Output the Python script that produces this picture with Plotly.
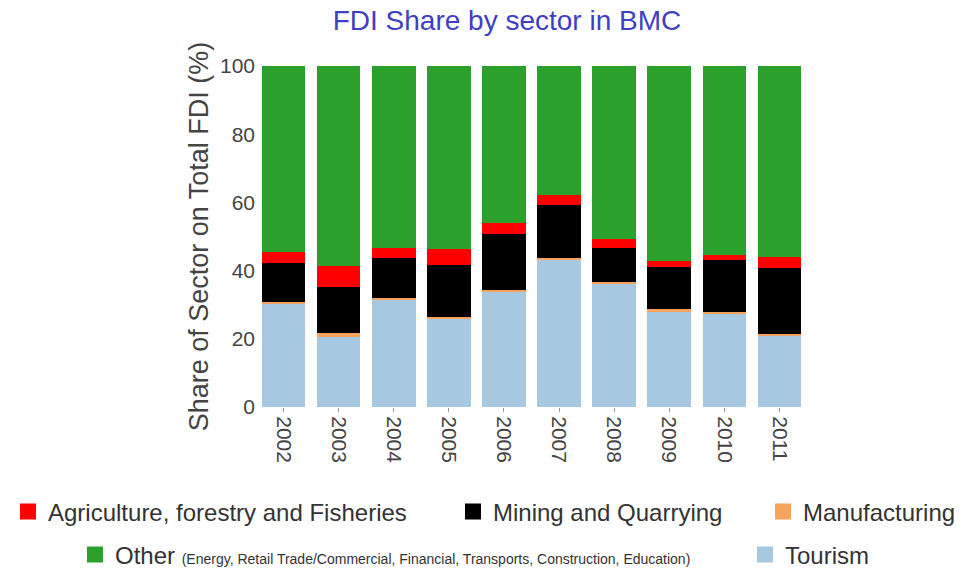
import plotly.graph_objects as go

years = ["2002", "2003", "2004", "2005", "2006", "2007", "2008", "2009", "2010", "2011"]
tourism = [30.2, 20.6, 31.4, 26.0, 33.8, 43.3, 36.2, 27.8, 27.3, 21.0]
manufacturing = [0.7, 1.0, 0.5, 0.5, 0.5, 0.5, 0.4, 0.9, 0.5, 0.4]
mining = [11.2, 13.7, 11.7, 15.2, 16.3, 15.4, 10.1, 12.3, 15.3, 19.4]
agriculture = [3.4, 6.1, 2.9, 4.5, 3.3, 3.0, 2.6, 1.7, 1.5, 3.1]
other = [round(100 - t - m - mi - a, 1) for t, m, mi, a in zip(tourism, manufacturing, mining, agriculture)]

FONT = "Liberation Sans, Arial, sans-serif"

# name, values, colour, legend id, legend x (container), legend y (container)
series = [
    ("Tourism", tourism, "#a6c8e0", "legend5", 737 / 963, 0.0437),
    ("Manufacturing", manufacturing, "#f7a35c", "legend3", 755 / 963, 0.119),
    ("Mining and Quarrying", mining, "#000000", "legend2", 445 / 963, 0.119),
    ("Agriculture, forestry and Fisheries", agriculture, "#ff0000", "legend", 0.0, 0.119),
    ("Other <span style='font-size:14px'>(Energy, Retail Trade/Commercial, Financial, Transports, Construction, Education)</span>",
     other, "#2ca02c", "legend4", 67 / 963, 0.0437),
]

fig = go.Figure()
for name, vals, color, leg, lx, ly in series:
    fig.add_trace(go.Bar(
        x=years, y=vals, name=name, marker_color=color,
        marker_line_width=0, showlegend=False,
    ))
# legend-only proxies (bigger square swatches)
legend_layout = {}
for name, vals, color, leg, lx, ly in series:
    fig.add_trace(go.Scatter(
        x=[None], y=[None], mode="markers", name=name, legend=leg,
        marker=dict(symbol="square", size=16, color=color), hoverinfo="skip",
    ))
    legend_layout[leg] = dict(
        orientation="h", xref="container", yref="container",
        x=lx, xanchor="left", y=ly, yanchor="middle",
        font=dict(size=24, color="#333333", family=FONT),
        itemwidth=30, bgcolor="rgba(0,0,0,0)", borderwidth=0,
    )

fig.update_layout(
    width=963, height=572,
    barmode="stack", bargap=0.21,
    margin=dict(l=248, r=164, t=58, b=173, autoexpand=False),
    paper_bgcolor="white", plot_bgcolor="white",
    font=dict(family=FONT, color="#444444"),
    title=dict(text="FDI Share by sector in BMC", x=499 / 963, xanchor="center", xref="container",
               y=0.978, yanchor="middle", yref="container",
               font=dict(size=28, color="#3f3fc4", family=FONT)),
    xaxis=dict(tickangle=90, tickfont=dict(size=21, color="#444444"), showgrid=False,
               ticks="outside", ticklen=4, tickcolor="#999999", showline=False),
    yaxis=dict(range=[0, 100], tickvals=[0, 20, 40, 60, 80, 100], showgrid=False, zeroline=False,
               tickfont=dict(size=21, color="#444444"), ticks="", ticklabelstandoff=0,
               title=dict(text="Share of Sector on Total FDI (%)", font=dict(size=27, color="#444444"),
                          standoff=3)),
    **legend_layout,
)

fig.write_html("out.html")
